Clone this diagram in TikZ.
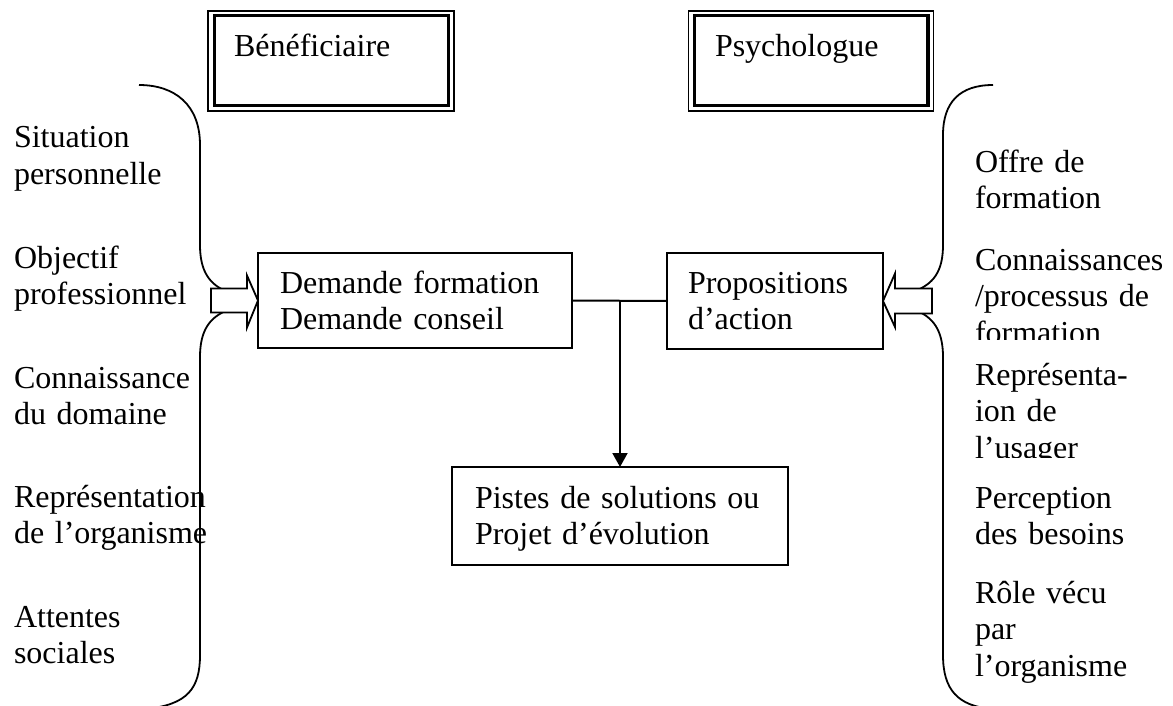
\documentclass[tikz,border=0pt]{standalone}
\usepackage{fontspec}
\setmainfont{Liberation Serif}
\usetikzlibrary{arrows.meta}

\begin{document}
\begin{tikzpicture}[x=1pt,y=-1pt,
  every node/.style={font=\fontsize{32}{36.8}\selectfont, outer sep=0pt},
  headbox/.style={draw, line width=1.6pt, anchor=north west, align=left,
    inner ysep=11pt, text height=35pt, text depth=43pt},
  innerframe/.style={line width=3.2pt},
  procbox/.style={draw, line width=2pt, fill=white, anchor=north west,
    align=left, inner ysep=0pt},
  lbl/.style={inner sep=0pt, anchor=base west, align=left, text width=#1},
  brace/.style={line width=1.8pt},
  blockarrow/.style={draw, fill=white, line width=1.8pt, line join=miter},
  link/.style={line width=2pt}]

% page frame
\path[use as bounding box, fill=white] (0,0) rectangle (1173,706);

% actors
\node[headbox, text width=194pt, inner xsep=26pt] (benef) at (208,11) {Bénéficiaire};
\draw[innerframe] ([shift={(6.5,4.5)}]benef.north west) rectangle ([shift={(-5.5,-5.5)}]benef.south east);
\node[headbox, text width=192pt, inner xsep=26.5pt] (psy) at (688.5,11) {Psychologue};
\draw[innerframe] ([shift={(6,4.5)}]psy.north west) rectangle ([shift={(-5.5,-5.5)}]psy.south east);

% process boxes
\node[procbox, text width=270pt, inner xsep=22pt, text height=40pt, text depth=55pt]
  (demande) at (258,253) {Demande formation\\Demande conseil};
\node[procbox, text width=174pt, inner xsep=21pt, text height=40pt, text depth=56pt]
  (props) at (667,253) {Propositions\\d’action};
\node[procbox, text width=290pt, inner xsep=23pt, text height=41pt, text depth=57pt]
  (pistes) at (452,467) {\makebox[290pt][s]{Pistes de solutions ou}\\Projet d’évolution};

% factors on the beneficiary side
\node[lbl=215pt] (l1) at (14,148) {Situation\\personnelle};
\node[lbl=215pt] (l2) at (14,268) {Objectif\\professionnel};
\node[lbl=215pt] (l3) at (14,388) {Connaissance\\du domaine};
\node[lbl=215pt] (l4) at (14,507) {Représentation\\de l’organisme};
\node[lbl=215pt] (l5) at (14,627) {Attentes\\sociales};

% factors on the psychologist side
\node[lbl=198pt] (r1) at (975,172) {Offre de\\formation};
\begin{scope}
  \clip (960,235) rectangle (1173,339.5);
  \node[lbl=198pt] (r2) at (975,270) {Connaissances\\/processus de\\formation};
\end{scope}
\begin{scope}
  \clip (960,350) rectangle (1173,457);
  \node[lbl=198pt] (r3) at (975,385) {Représenta-\\ion de\\l’usager};
\end{scope}
\node[lbl=198pt] (r4) at (975,508) {Perception\\des besoins};
\node[lbl=198pt] (r5) at (975,603) {Rôle vécu\\par\\l’organisme};

% braces gathering the factors
\draw[brace] (139,85) .. controls (175,85) and (200,105) .. (200,145) -- (200,245)
  .. controls (200,272) and (210,285) .. (228,292);
\draw[brace] (228,310) .. controls (210,317) and (200,330) .. (200,357) -- (200,655)
  .. controls (200,688) and (188,705) .. (145,709);
\draw[brace] (993,85) .. controls (960,85) and (943,102) .. (943,135) -- (943,245)
  .. controls (943,272) and (933,284) .. (915,291);
\draw[brace] (915,310) .. controls (933,317) and (943,330) .. (943,357) -- (943,655)
  .. controls (943,690) and (958,706) .. (992,709);

% block arrows feeding the boxes
\begin{scope}[shift={(demande.west)}]
  \path[blockarrow] (-47,-12) -- (-11,-12) -- (-11,-25) -- (0,0) -- (-11,27)
    -- (-11,12) -- (-47,12) -- cycle;
\end{scope}
\begin{scope}[shift={(props.east)}]
  \path[blockarrow] (49,-12.5) -- (12,-12.5) -- (12,-27.5) -- (0,0) -- (12,26)
    -- (12,12.5) -- (49,12.5) -- cycle;
\end{scope}

% outcome
\coordinate (junction) at (pistes.north |- demande.east);
\draw[link] (demande.east) -- (props.west);
\draw[link, -{Triangle[length=14pt,width=15pt]}] (junction) -- (pistes.north);

\end{tikzpicture}
\end{document}
